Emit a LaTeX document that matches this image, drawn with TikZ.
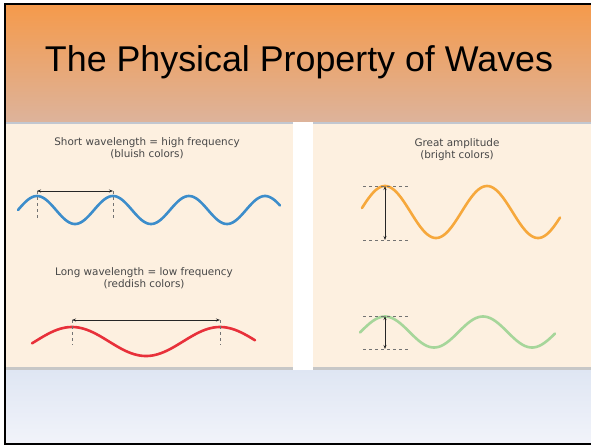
\documentclass[tikz,border=0pt]{standalone}
\usepackage{fontspec}
\setmainfont{Liberation Sans}
\newfontfamily\capfont{DejaVu Sans}
\usetikzlibrary{arrows.meta}

\definecolor{hdtop}{HTML}{F59A4B}
\definecolor{hdbot}{HTML}{DDB39B}
\definecolor{cream}{HTML}{FDF0E0}
\definecolor{fttop}{HTML}{DFE6F3}
\definecolor{ftbot}{HTML}{F1F3FA}
\definecolor{bluewave}{HTML}{3C8DCB}
\definecolor{redwave}{HTML}{E8303A}
\definecolor{orangewave}{HTML}{F6A83C}
\definecolor{greenwave}{HTML}{A6D69A}

\tikzset{
  wave/.style={line width=2.6pt, line cap=round},
  span/.style={{Stealth[length=4pt]}-{Stealth[length=4pt]}, line width=0.9pt, black!85},
  tick/.style={dashed, black!55, line width=0.7pt},
  caption/.style={font=\capfont\fontsize{10.4}{12}\selectfont, text=black!72, align=center},
}

\begin{document}
\begin{tikzpicture}[x=1pt,y=-1pt]
  \useasboundingbox (0,0) rectangle (591,445);
  % slide background
  \shade[top color=hdtop, bottom color=hdbot] (5,4) rectangle (591,122);
  \fill[fttop!70!gray] (5,122) rectangle (591,124);
  \fill[cream] (5,124) rectangle (293,367);
  \fill[cream] (313,124) rectangle (591,367);
  \fill[black!22] (5,367) rectangle (591,370);
  \fill[white] (293,122) rectangle (313,370);
  \shade[top color=fttop, bottom color=ftbot] (5,370) rectangle (591,443);
  \draw[line width=2pt] (591,3.5) -- (5,3.5) -- (5,443.5) -- (591,443.5);

  \node[font=\fontsize{35.8}{40}\selectfont] (title) at (299,62) {The Physical Property of Waves};

  % wavelength
  \node[caption] (shortcap) at (147,148) {Short wavelength = high frequency\\(bluish colors)};
  \draw[wave, bluewave] plot[domain=18:280, samples=150, smooth] (\x,{210-14*cos(360/76*(\x-37))});
  \coordinate (b1) at (37,191);
  \coordinate (b2) at (113,191);
  \coordinate (b1low) at (37,218);
  \coordinate (b2low) at (113,218);
  \draw[tick] (b1) -- (b1low);
  \draw[tick] (b2) -- (b2low);
  \draw[span] (b1) -- (b2);

  \node[caption] (longcap) at (144,278) {Long wavelength = low frequency\\(reddish colors)};
  \draw[wave, redwave] plot[domain=32:255, samples=150, smooth] (\x,{341.5-14.5*cos(360/148*(\x-72))});
  \coordinate (r1) at (72,320);
  \coordinate (r2) at (220,320);
  \coordinate (r1low) at (72,345);
  \coordinate (r2low) at (220,345);
  \draw[tick] (r1) -- (r1low);
  \draw[tick] (r2) -- (r2low);
  \draw[span] (r1) -- (r2);

  % amplitude
  \node[caption] (ampcap) at (457,150) {Great amplitude\\(bright colors)};
  \draw[wave, orangewave] plot[domain=362:560, samples=150, smooth] (\x,{212-26*cos(360/102*(\x-385))});
  \coordinate (o1) at (363,186);
  \coordinate (o2) at (410,186);
  \coordinate (o3) at (363,240);
  \coordinate (o4) at (410,240);
  \coordinate (otop) at (385,186);
  \coordinate (obot) at (385,240);
  \draw[tick] (o1) -- (o2);
  \draw[tick] (o3) -- (o4);
  \draw[span] (otop) -- (obot);

  \draw[wave, greenwave] plot[domain=360:555, samples=150, smooth] (\x,{332-15.5*cos(360/98*(\x-385))});
  \coordinate (g1) at (363,316);
  \coordinate (g2) at (410,316);
  \coordinate (g3) at (363,349);
  \coordinate (g4) at (410,349);
  \coordinate (gtop) at (385,316);
  \coordinate (gbot) at (385,349);
  \draw[tick] (g1) -- (g2);
  \draw[tick] (g3) -- (g4);
  \draw[span] (gtop) -- (gbot);
\end{tikzpicture}
\end{document}
